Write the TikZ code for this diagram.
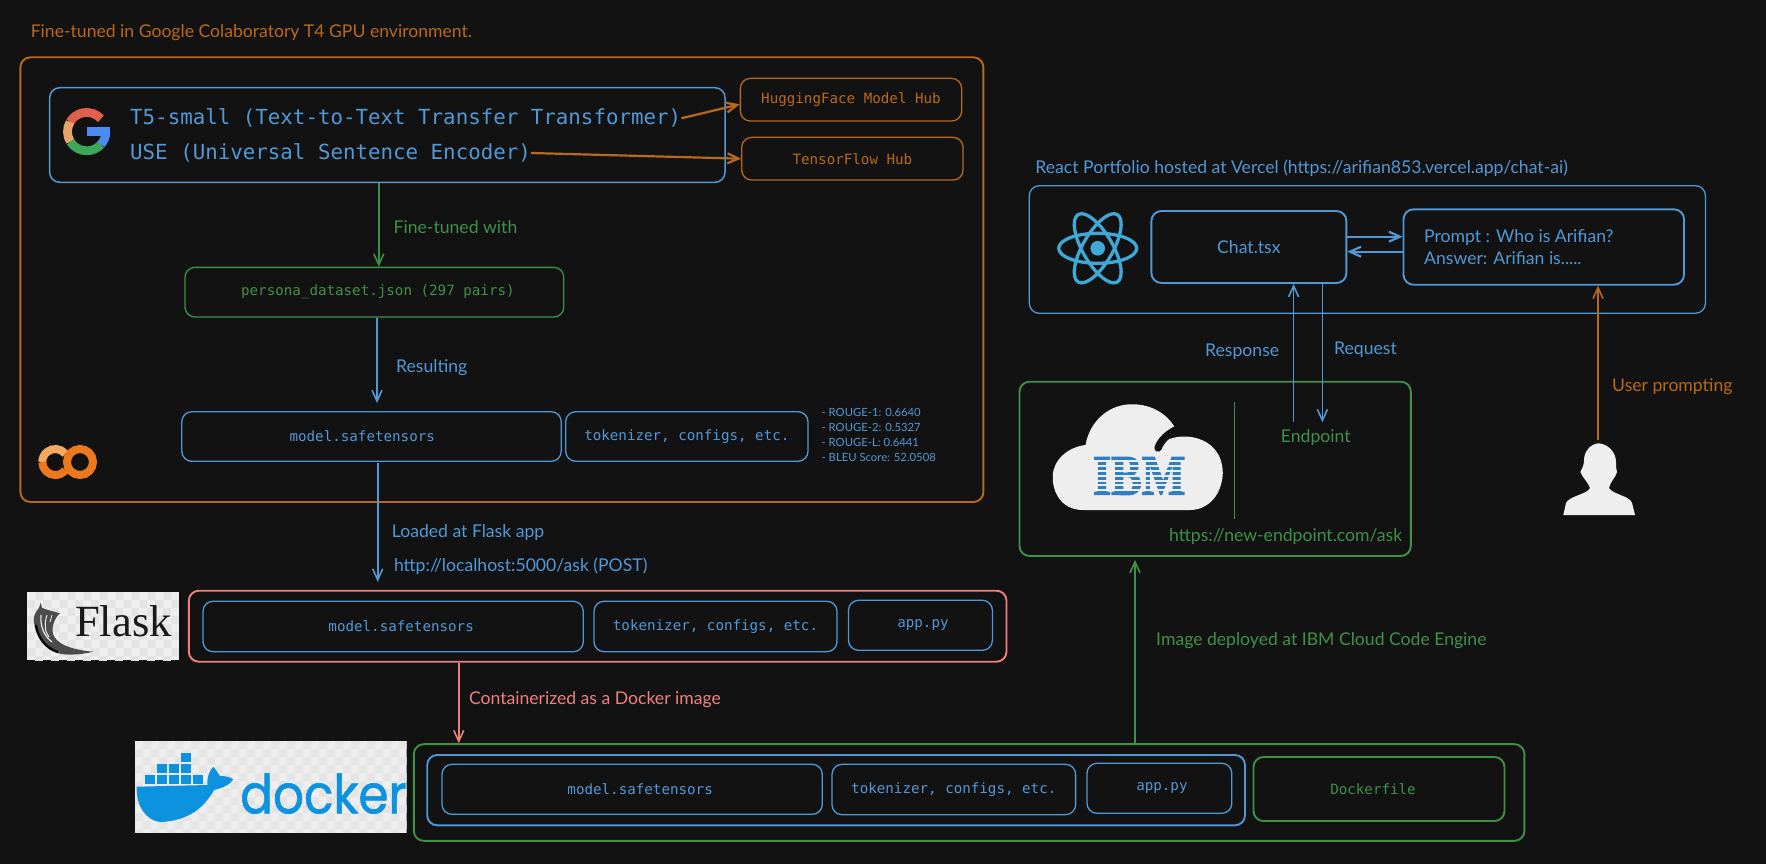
\documentclass[tikz,border=0pt]{standalone}
\usepackage{fontspec}
\setmainfont{Lato}
\setmonofont{DejaVu Sans Mono}
\newfontfamily\flaskfont{Liberation Serif}
\newfontfamily\ibmfont{Liberation Serif}[FakeBold=2.2]
\newfontfamily\dockerfont{Poppins}[FakeBold=1.2]
\usetikzlibrary{
    arrows.meta,
    positioning,
}
\definecolor{bgdark}{HTML}{121212}
\definecolor{cblue}{HTML}{5298D6}
\definecolor{cgreen}{HTML}{3F9148}
\definecolor{corange}{HTML}{B9691B}
\definecolor{cred}{HTML}{F08080}
\definecolor{creact}{HTML}{3EA9D6}
\definecolor{cibm}{HTML}{2F7EC4}
\definecolor{cdocker}{HTML}{0D92E0}
\definecolor{cwhite}{HTML}{EEEEEE}
\definecolor{cchecker}{HTML}{E4E4E4}
\tikzset{
    box/.style = {
        rectangle,
        rounded corners=10pt,
        align=center,
        inner sep=0pt,
        line width=1.3pt,
        draw,
    },
    thickbox/.style = {
        box,
        line width=1.9pt,
    },
    monosmall/.style = {
        font=\ttfamily\fontsize{14.2}{17}\selectfont,
    },
    monobig/.style = {
        font=\ttfamily\fontsize{20.8}{25}\selectfont,
        text=cblue,
        inner sep=0pt,
        anchor=west,
    },
    caption/.style = {
        font=\fontsize{17.6}{21}\selectfont,
        inner sep=0pt,
        anchor=west,
    },
    metric/.style = {
        font=\fontsize{11.3}{13}\selectfont,
        text=cblue,
        inner sep=0pt,
        anchor=west,
    },
    arrow/.style = {
        line width=1.6pt,
        -{Straight Barb[length=11pt,width=10pt]},
    },
    heavyarrow/.style = {
        arrow,
        line width=2.2pt,
    },
}
\begin{document}
\begin{tikzpicture}[x=1pt,y=-1pt]
    \fill [bgdark] (0,0) rectangle (1766,864);
    \useasboundingbox (0,0) rectangle (1766,864);

    % colab part
    \node [caption, text=corange] (colabtitle) at (30.6,32.5)
    {Fine-tuned in Google Colaboratory T4 GPU environment.};
    \node [thickbox, draw=corange, minimum width=963pt, minimum height=444.7pt] (colab) at (501.9,279.65) {};
    \node [box, line width=1.5pt, draw=cblue, minimum width=675.3pt, minimum height=94.6pt] (models) at (387.35,135) {};
    \node [monobig] (t5text) at (130,118.3) {T5-small (Text-to-Text Transfer Transformer)};
    \node [monobig] (usetext) at (130,153) {USE (Universal Sentence Encoder)};
    \node [box, monosmall, draw=corange, text=corange, minimum width=221.3pt, minimum height=42.7pt] (hfhub) at (851,99.7)
    {HuggingFace Model Hub};
    \node [box, monosmall, draw=corange, text=corange, minimum width=221.3pt, minimum height=42.7pt] (tfhub) at (852.4,158.7)
    {TensorFlow Hub};
    \node [box, monosmall, draw=cgreen, text=cgreen, minimum width=378.8pt, minimum height=49.7pt] (persona) at (374.4,292.2)
    {\hspace*{7pt}persona\_dataset.json (297 pairs)};
    \node [box, monosmall, draw=cblue, text=cblue, minimum width=379.4pt, minimum height=49.6pt] (model) at (371.5,436.5)
    {\hspace*{-18.5pt}model.safetensors};
    \node [box, monosmall, draw=cblue, text=cblue, minimum width=242.3pt, minimum height=49.6pt] (tok) at (686.85,436.5)
    {tokenizer, configs, etc.};
    \node [metric] (rouge1) at (821.4,412) {- ROUGE-1: 0.6640};
    \node [metric] (rouge2) at (821.4,427) {- ROUGE-2: 0.5327};
    \node [metric] (rougel) at (821.4,442) {- ROUGE-L: 0.6441};
    \node [metric] (bleu) at (821.4,457) {- BLEU Score: 52.0508};
    \node [caption, text=cgreen] (finelabel) at (393.5,226.7) {Fine-tuned with};
    \node [caption, text=cblue] (resultlabel) at (396,367.5) {Resulting};

    % flask part
    \node [thickbox, draw=cred, minimum width=817.7pt, minimum height=71pt] (flaskbox) at (597.65,626.2) {};
    \node [box, monosmall, draw=cblue, text=cblue, minimum width=380.3pt, minimum height=50.4pt] (model2) at (393.15,626.5)
    {\hspace*{16pt}model.safetensors};
    \node [box, monosmall, draw=cblue, text=cblue, minimum width=243pt, minimum height=50.4pt] (tok2) at (715.5,626.5)
    {tokenizer, configs, etc.};
    \node [box, monosmall, draw=cblue, text=cblue, minimum width=143.9pt, minimum height=50pt] (app2) at (920.45,625.3)
    {\hspace*{5pt}app.py};
    \node [caption, text=cblue] (loadlabel) at (391.7,532.5) {Loaded at Flask app};
    \node [caption, text=cblue] (locallabel) at (393.8,565.7) {http://localhost:5000/ask (POST)};
    \node [caption, text=cred] (containerlabel) at (468.8,699.7) {Containerized as a Docker image};

    % docker part
    \node [thickbox, draw=cgreen, minimum width=1110.6pt, minimum height=96.7pt] (dockerbox) at (969.1,792.5) {};
    \node [thickbox, draw=cblue, minimum width=817.8pt, minimum height=70.3pt] (imagebox) at (836.1,790.15) {};
    \node [box, monosmall, draw=cblue, text=cblue, minimum width=380.3pt, minimum height=50pt] (model3) at (632.15,789.3)
    {\hspace*{16pt}model.safetensors};
    \node [box, monosmall, draw=cblue, text=cblue, minimum width=243.6pt, minimum height=50.4pt] (tok3) at (953.8,789.5)
    {tokenizer, configs, etc.};
    \node [box, monosmall, draw=cblue, text=cblue, minimum width=144.8pt, minimum height=50pt] (app3) at (1159.4,788.3)
    {\hspace*{5pt}app.py};
    \node [thickbox, monosmall, draw=cgreen, text=cgreen, minimum width=251pt, minimum height=64pt] (dockerfile) at (1379,789)
    {\hspace*{-12pt}Dockerfile};
    \node [caption, text=cgreen] (deploylabel) at (1156,640.7) {Image deployed at IBM Cloud Code Engine};

    % react part
    \node [caption, text=cblue] (reacttitle) at (1035.2,168)
    {React Portfolio hosted at Vercel (https://arifian853.vercel.app/chat-ai)};
    \node [box, draw=cblue, minimum width=676.1pt, minimum height=127.6pt] (react) at (1367.35,249.5) {};
    \node [thickbox, draw=cblue, text=cblue, font=\fontsize{17.6}{21}\selectfont, minimum width=195pt, minimum height=72pt] (chat) at (1248.9,247)
    {Chat.tsx};
    \node [thickbox, draw=cblue, minimum width=280.5pt, minimum height=75.4pt] (prompt) at (1543.75,247) {};
    \node [caption, text=cblue, align=left, font=\fontsize{17.6}{22.6}\selectfont] (prompttext) at (1424,247)
    {Prompt : Who is Arifian?\\Answer: Arifian is.....};
    \node [caption, text=cblue] (resplabel) at (1205,352) {Response};
    \node [caption, text=cblue] (reqlabel) at (1334,350) {Request};
    \node [caption, text=corange] (userlabel) at (1612,387) {User prompting};

    % ibm part
    \node [thickbox, draw=cgreen, minimum width=391.3pt, minimum height=174.3pt] (ibm) at (1215.15,468.85) {};
    \node [coordinate] (divtop) at (1234.5,401.7) {};
    \node [coordinate] (divbottom) at (1234.5,519.3) {};
    \draw [cgreen, line width=1.8pt] (divtop) -- (divbottom);
    \node [caption, anchor=center, text=cgreen] (endpoint) at (1315.8,437.5) {Endpoint};
    \node [caption, text=cgreen] (url) at (1169,536.7) {https://new-endpoint.com/ask};

    % google logo
    \begin{scope}[shift={(86.7,131.6)},y=1pt]
        \draw [line width=8.8pt, color={rgb,255:red,224;green,96;blue,79}] (42:19.2pt) arc (42:150:19.2pt);
        \draw [line width=8.8pt, color={rgb,255:red,229;green,165;blue,106}] (150:19.2pt) arc (150:212:19.2pt);
        \draw [line width=8.8pt, color={rgb,255:red,63;green,165;blue,88}] (212:19.2pt) arc (212:318:19.2pt);
        \draw [line width=8.8pt, color={rgb,255:red,76;green,139;blue,245}] (318:19.2pt) arc (318:360:19.2pt);
        \fill [color={rgb,255:red,76;green,139;blue,245}] (0,4.2) rectangle (23.6,-4);
    \end{scope}

    % colab logo
    \begin{scope}[shift={(55.3,462)},y=1pt]
        \draw [line width=8pt, color={rgb,255:red,244;green,168;blue,96}] (40:13pt) arc (40:180:13pt);
        \draw [line width=8pt, color={rgb,255:red,236;green,120;blue,30}] (180:13pt) arc (180:320:13pt);
    \end{scope}
    \draw [line width=8pt, color={rgb,255:red,236;green,120;blue,30}] (80,462) circle (13pt);

    % flask logo
    \begin{scope}
        \clip (26.8,592.3) rectangle (178.8,660);
        \fill [cwhite] (26.8,592.3) rectangle (178.8,660);
        \foreach \i in {0,...,19}
            \foreach \j in {0,...,8}{
                \pgfmathtruncatemacro{\odd}{mod(\i+\j,2)}
                \ifnum\odd=1
                    \fill [cchecker] (26.8+\i*8,592.3+\j*8) rectangle +(8,8);
                \fi
            }
    \end{scope}
    \fill [black!70] (40.7,602.7) -- (42,608) .. controls (48,610) and (55,612) .. (60,613.3)
        .. controls (56,616) and (51,626) .. (53,634)
        .. controls (56,644) and (72,650) .. (93.3,651.7)
        .. controls (80,655) and (64,656) .. (54,652)
        .. controls (40,646) and (33,630) .. (34,617)
        .. controls (35,613) and (37,610) .. (39,608) -- cycle;
    \draw [cwhite, line width=1.2pt] (41,615) .. controls (40,626) and (44,636) .. (52,642);
    \draw [cwhite, line width=1pt] (47,615) .. controls (44,624) and (45,632) .. (49,637);
    \draw [black, line width=2pt] (36,625) .. controls (38,638) and (46,648) .. (58,652);
    \draw [cwhite, line width=.8pt] (52,615) -- (50,622);
    \node [font=\flaskfont\fontsize{44.6}{50}\selectfont, text=black!90, inner sep=0pt, anchor=base west] (flasktext) at (75,636) {Flask};

    % docker logo
    \begin{scope}
        \clip (134.6,741.3) rectangle (406.5,832.7);
        \fill [cwhite] (134.6,741.3) rectangle (406.5,832.7);
        \foreach \i in {0,...,34}
            \foreach \j in {0,...,11}{
                \pgfmathtruncatemacro{\odd}{mod(\i+\j,2)}
                \ifnum\odd=1
                    \fill [cchecker] (134.6+\i*8,741.3+\j*8) rectangle +(8,8);
                \fi
            }
    \end{scope}
    \fill [cdocker] (136.7,786.7) -- (207.3,785) .. controls (207,778) and (209,771) .. (213.3,766.7)
        .. controls (216,770) and (218,773) .. (220,776) .. controls (225,776) and (230,777) .. (233.3,779.3)
        .. controls (230,785) and (222,788) .. (214,790)
        .. controls (205,806) and (190,821) .. (160,822)
        .. controls (145,820) and (136,805) .. cycle;
    \foreach \bx/\by in {145/775,156.7/775,168.7/775,180.7/775,192.7/775,156.7/763.8,168.7/763.8,180.7/763.8,180.7/752.7}
        \fill [cdocker] (\bx,\by) rectangle +(10,9);
    \node [font=\dockerfont\fontsize{50}{56}\selectfont, text=cdocker, inner sep=0pt, anchor=base west] (dockertext) at (240,813.3)
    {\scalebox{.97}[1.08]{docker}};

    % ibm logo
    \fill [cwhite] (1083,510) .. controls (1060,510) and (1052,490) .. (1052.8,476)
        .. controls (1053,460) and (1068,447) .. (1085.5,445)
        .. controls (1090,420) and (1110,404) .. (1132,404.3)
        .. controls (1152,404) and (1170,415) .. (1177,432)
        -- (1165,442) .. controls (1175,432) and (1222,432) .. (1222.8,473)
        .. controls (1222,495) and (1208,510) .. (1190,510) -- cycle;
    \draw [bgdark, line width=7.5pt, line cap=round] (1180,428) .. controls (1168,433) and (1161,440) .. (1158,448);
    \node [font=\ibmfont\bfseries\fontsize{57}{60}\selectfont, text=cibm, inner sep=0pt] (ibmtext) at (1139.2,476)
    {\scalebox{.81}[1]{IBM}};
    \foreach \s in {0,...,6}
        \fill [cwhite] (1090,460.2+\s*4.85) rectangle +(98,1.9);

    % react logo
    \foreach \r in {0,60,120}
        \draw [creact, line width=3.3pt] (1097.7,248.3) ellipse [x radius=39pt, y radius=15pt, rotate=\r];
    \fill [creact] (1097.7,248.3) circle (7.3pt);

    % user
    \node [coordinate] (user) at (1598,440) {};
    \fill [cwhite] (1598.5,443.3) .. controls (1608,444) and (1616,452) .. (1616,462)
        .. controls (1616,466) and (1616,468) .. (1617,472) .. controls (1616,477) and (1610,482) .. (1609,488)
        .. controls (1612,494) and (1630,496) .. (1632,503) -- (1635,515) -- (1563.3,515) -- (1566,503)
        .. controls (1569,496) and (1588,494) .. (1590,488)
        .. controls (1588,482) and (1582,477) .. (1580.4,472) .. controls (1582,468) and (1584,466) .. (1584,460)
        .. controls (1584,452) and (1590,444) .. (1598.5,443.3) -- cycle;

    \draw [heavyarrow, corange] (t5text.east) -- ([yshift=-4.6pt]hfhub.west);
    \draw [heavyarrow, corange] (usetext.east) -- (tfhub.west);
    \draw [arrow, cgreen] ([xshift=4.4pt]persona.north |- models.south) -- ([xshift=4.4pt]persona.north);
    \draw [arrow, cblue, shorten >=8pt] ([xshift=2.6pt]persona.south) -- ([xshift=2.6pt]persona.south |- model.north);
    \draw [arrow, cblue, shorten >=8pt, shorten <=1pt] ([xshift=6.2pt]model.south) -- ([xshift=6.2pt]model.south |- flaskbox.north);
    \draw [arrow, cred] ([xshift=-138.9pt]flaskbox.south) -- ([xshift=-138.9pt]flaskbox.south |- dockerbox.north);
    \draw [arrow, cgreen, shorten >=3pt] ([xshift=165.9pt]dockerbox.north) -- ([xshift=165.9pt]dockerbox.north |- ibm.south);
    \draw [heavyarrow, cblue] ([yshift=10.3pt]chat.east) -- ([yshift=10.3pt]chat.east -| prompt.west);
    \draw [heavyarrow, cblue] ([yshift=-4.7pt]prompt.west) -- ([yshift=-4.7pt]prompt.west -| chat.east);
    \draw [arrow, cblue, shorten <=7pt] ([xshift=44.7pt]chat.south |- endpoint.north) -- ([xshift=44.7pt]chat.south);
    \draw [arrow, cblue, shorten >=7pt] ([xshift=73.5pt]chat.south) -- ([xshift=73.5pt]chat.south |- endpoint.north);
    \draw [arrow, corange] (user) -- (user |- prompt.south);
\end{tikzpicture}
\end{document}
